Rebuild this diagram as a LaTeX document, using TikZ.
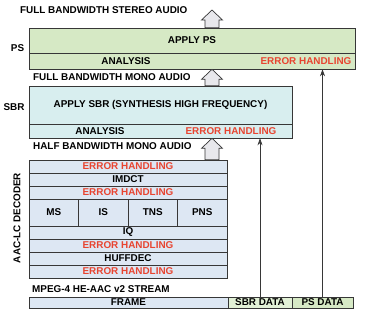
\documentclass[tikz,border=0pt]{standalone}
\usepackage{fontspec}
\setmainfont{Liberation Sans}
\usepackage{xcolor}
\usetikzlibrary{calc,arrows.meta}

\definecolor{psgreen}{RGB}{214,233,197}
\definecolor{sbrcyan}{RGB}{216,238,239}
\definecolor{aacblue}{RGB}{221,231,243}
\definecolor{datagreen}{RGB}{226,241,214}
\definecolor{errred}{RGB}{232,68,48}
\definecolor{linegray}{RGB}{55,55,55}
\definecolor{hollowfill}{RGB}{232,232,236}

\tikzset{
  lbl/.style={font=\fontsize{9.9}{11}\selectfont\bfseries, text=black, inner sep=0pt},
  cell/.style={lbl, draw=linegray, line width=0.6pt},
  err/.style={lbl, text=errred},
  hollow/.style={draw=linegray, line width=0.7pt, fill=hollowfill, line join=miter},
  data/.style={draw=linegray, line width=0.6pt, -{Stealth[length=7pt,width=5pt]}}
}

\begin{document}
\begin{tikzpicture}[x=1pt,y=-1pt]
    \useasboundingbox (0,0) rectangle (366,319);
    % PS stage
    \node[cell, fill=psgreen, minimum width=326, minimum height=25] (psapply) at (192,40.5) {APPLY PS};
    \node[cell, fill=psgreen, minimum width=326, minimum height=16] (psana) at (192,61) {};
    \node[lbl] (psanatxt) at (126,61) {ANALYSIS};
    \node[err] (pserr) at (306,61) {ERROR HANDLING};
    \node[lbl] (pslbl) at (17.5,48) {PS};
    % SBR stage
    \node[cell, fill=sbrcyan, minimum width=263, minimum height=38] (sbrapply) at (160.5,105) {APPLY SBR (SYNTHESIS HIGH FREQUENCY)};
    \node[cell, fill=sbrcyan, minimum width=263, minimum height=14] (sbrana) at (160.5,131) {};
    \node[lbl] (sbranatxt) at (100,131) {ANALYSIS};
    \node[err] (sbrerr) at (231,131) {ERROR HANDLING};
    \node[lbl] (sbrlbl) at (14,107) {SBR};
    % AAC-LC decoder
    \foreach \n/\y/\t/\s in {eh1/166.5/ERROR HANDLING/err, imdct/179.5/IMDCT/lbl, eh2/192.5/ERROR HANDLING/err,
                             iq/232.5/IQ/lbl, eh3/245.5/ERROR HANDLING/err, huff/258.5/HUFFDEC/lbl, eh4/271.5/ERROR HANDLING/err} {
        \node[cell, \s, fill=aacblue, minimum width=198, minimum height=13] (\n) at (128,\y) {\t};
    }
    \foreach \n/\x/\t in {ms/53.75/MS, is/103.25/IS, tns/152.75/TNS, pns/202.25/PNS} {
        \node[cell, fill=aacblue, minimum width=49.5, minimum height=27] (\n) at (\x,212.5) {\t};
    }
    \node[lbl, rotate=90] (aaclbl) at (17,218) {AAC-LC DECODER};
    % bit stream
    \node[cell, fill=aacblue, minimum width=199, minimum height=11] (frame) at (128.5,302.5) {FRAME};
    \node[cell, fill=datagreen, minimum width=64, minimum height=11] (sbrdata) at (260,302.5) {SBR DATA};
    \node[cell, fill=psgreen, minimum width=61, minimum height=11] (psdata) at (322.5,302.5) {PS DATA};
    % signal labels
    \node[lbl, anchor=west] (stereo) at (20,10) {FULL BANDWIDTH STEREO AUDIO};
    \node[lbl, anchor=west] (fullmono) at (33,77) {FULL BANDWIDTH MONO AUDIO};
    \node[lbl, anchor=west] (halfmono) at (33,146) {HALF BANDWIDTH MONO AUDIO};
    \node[lbl, anchor=west] (stream) at (32,289) {MPEG-4 HE-AAC v2 STREAM};
    % hollow arrows between stages
    \coordinate (stem) at (212,0);
    \coordinate (out) at (212,10);
    \foreach \lo/\hi in {eh1.north/sbrana.south, sbrapply.north/psana.south, psapply.north/out} {
        \draw[hollow] let \p1=(\lo -| stem), \p2=(\hi -| stem) in
            (\x1-7pt,\y1) -- (\x1-7pt,\y2-10pt) -- (\x1-10.5pt,\y2-10pt) -- (\x1,\y2)
            -- (\x1+10.5pt,\y2-10pt) -- (\x1+7pt,\y2-10pt) -- (\x1+7pt,\y1) -- cycle;
    }
    % side data
    \draw[data] (sbrdata.north) -- (sbrdata.north |- sbrana.south);
    \draw[data] (psdata.north) -- (psdata.north |- psana.south);
\end{tikzpicture}
\end{document}
